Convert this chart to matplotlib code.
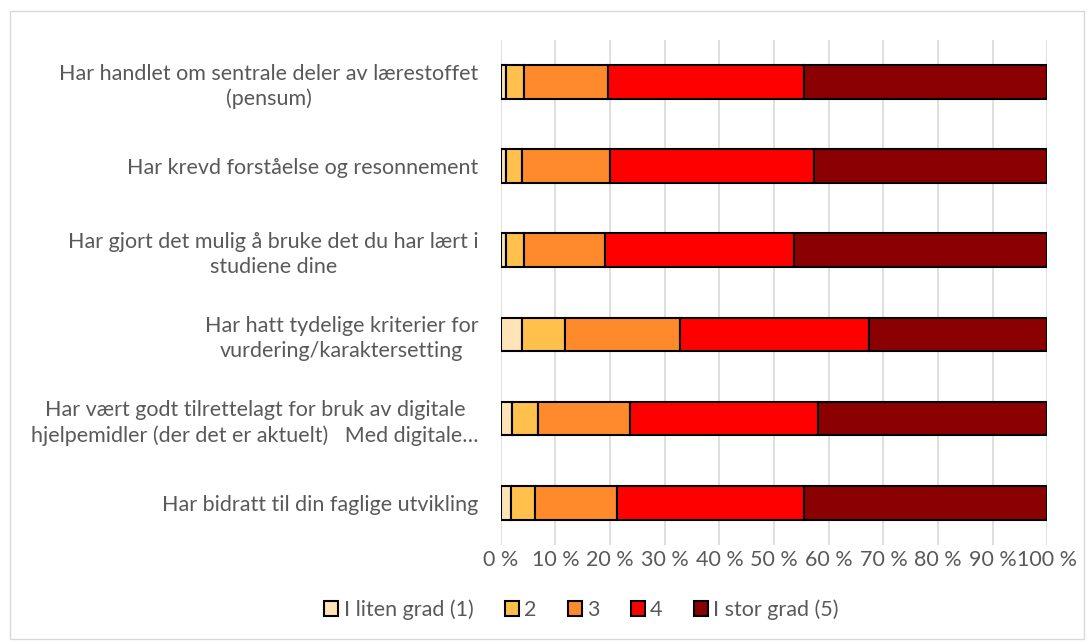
import matplotlib.pyplot as plt
import numpy as np
from matplotlib.patches import Rectangle

# Categories (top to bottom) and shares per answer level, in percent
categories = [
    'Har handlet om sentrale deler av lærestoffet\n(pensum)',
    'Har krevd forståelse og resonnement',
    'Har gjort det mulig å bruke det du har lært i\nstudiene dine',
    'Har hatt tydelige kriterier for\nvurdering/karaktersetting',
    'Har vært godt tilrettelagt for bruk av digitale\nhjelpemidler (der det er aktuelt)   Med digitale…',
    'Har bidratt til din faglige utvikling',
]
level_1 = [1.0, 1.0, 1.0, 3.8, 2.1, 1.8]
level_2 = [3.2, 2.8, 3.2, 8.0, 4.7, 4.4]
level_3 = [15.5, 16.1, 14.8, 20.9, 16.9, 15.1]
level_4 = [35.7, 37.4, 34.7, 34.6, 34.3, 34.2]
level_5 = [44.6, 42.7, 46.3, 32.7, 42.0, 44.5]

series_names = ['I liten grad (1)', '2', '3', '4', 'I stor grad (5)']
colors = ['#FFE4B8', '#FFC04C', '#FF8A2B', '#FF0000', '#8B0000']

plt.rcParams['font.family'] = ['Lato', 'DejaVu Sans']
text_color = '#595959'
fs = 15.5

fig = plt.figure(figsize=(10.91, 6.44), dpi=100)
ax = fig.add_axes([0.459, 0.154, 0.501, 0.784])

y = np.arange(len(categories))
left = np.zeros(len(categories))
for vals, name, col in zip([level_1, level_2, level_3, level_4, level_5], series_names, colors):
    ax.barh(y, vals, left=left, height=0.4, color=col, edgecolor='black',
            linewidth=1.5, label=name, zorder=3)
    left += np.array(vals)

ax.set_ylim(len(categories) - 0.5, -0.5)
ax.set_xlim(0, 100)
ax.set_yticks(y)
ax.set_yticklabels(categories, fontsize=fs, color=text_color, multialignment='center',
                   linespacing=1.3)
ax.set_xticks(np.arange(0, 101, 10))
ax.set_xticklabels([f'{v} %' for v in range(0, 101, 10)], fontsize=fs, color=text_color)
ax.tick_params(length=0, pad=4)
ax.tick_params(axis='y', pad=16)
ax.grid(axis='x', color='#D9D9D9', linewidth=1.2, zorder=0)
for s in ax.spines.values():
    s.set_visible(False)

leg = fig.legend(loc='center', bbox_to_anchor=(0.533, 0.053), ncol=5, frameon=False,
                 fontsize=fs, handlelength=0.65, handleheight=0.65, columnspacing=1.45,
                 handletextpad=0.25)
for t in leg.get_texts():
    t.set_color(text_color)

fig.patches.append(Rectangle((0.009, 0.008), 0.985, 0.975, transform=fig.transFigure,
                             fill=False, edgecolor='#D9D9D9', linewidth=1))

fig.savefig('out.png', dpi=100)
